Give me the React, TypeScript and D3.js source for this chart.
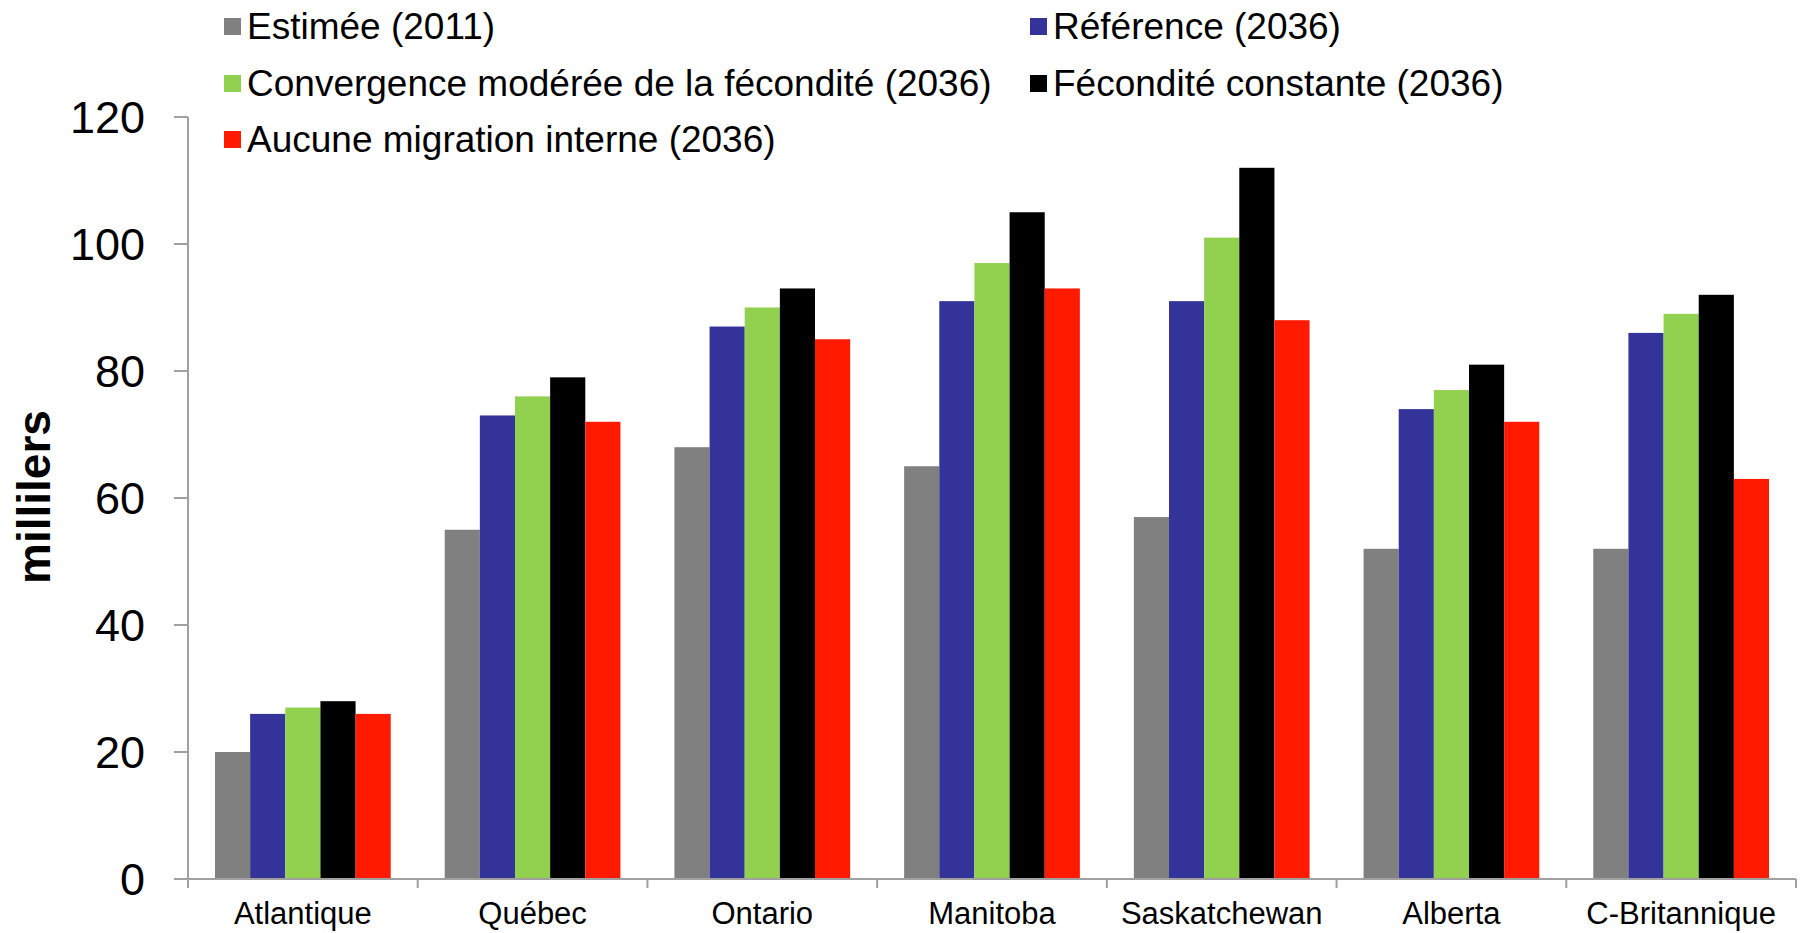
import React from "react";
import * as d3 from "d3";

const categories = ["Atlantique", "Québec", "Ontario", "Manitoba", "Saskatchewan", "Alberta", "C-Britannique"];
const seriesNames = [
  "Estimée (2011)",
  "Référence (2036)",
  "Convergence modérée de la fécondité (2036)",
  "Fécondité constante (2036)",
  "Aucune migration interne (2036)",
];
const seriesColors = ["#808080", "#333399", "#92D050", "#000000", "#FF1A00"];
const estimee2011 = [20, 55, 68, 65, 57, 52, 52];
const reference2036 = [26, 73, 87, 91, 91, 74, 86];
const convergence2036 = [27, 76, 90, 97, 101, 77, 89];
const constante2036 = [28, 79, 93, 105, 112, 81, 92];
const aucuneMigration2036 = [26, 72, 85, 93, 88, 72, 63];
const seriesValues = [estimee2011, reference2036, convergence2036, constante2036, aucuneMigration2036];
const yTicks = [0, 20, 40, 60, 80, 100, 120];

const W = 1802;
const H = 933;
const left = 188;
const right = 1796;
const top = 117;
const bottom = 879;
const font = "'Liberation Sans', Arial, sans-serif";

export default function App() {
  const x0 = d3.scaleBand<string>().domain(categories).range([left, right]).padding(0);
  const bw = x0.bandwidth();
  const gap = bw * 0.1175;
  const x1 = d3.scaleBand<string>().domain(seriesNames).range([gap, bw - gap]).padding(0);
  const y = d3.scaleLinear().domain([0, 120]).range([bottom, top]);
  const axisColor = "#A0A0A0";

  const legendItems = [
    { i: 0, x: 224, y: 26 },
    { i: 1, x: 1030, y: 26 },
    { i: 2, x: 224, y: 83 },
    { i: 3, x: 1030, y: 83 },
    { i: 4, x: 224, y: 139 },
  ];

  return (
    <svg width={W} height={H} style={{ position: "absolute", left: 0, top: 0, background: "#fff" }}>
      {/* bars */}
      {categories.map((c, ci) => (
        <g key={c} transform={`translate(${x0(c)},0)`}>
          {seriesNames.map((s, si) => {
            const v = seriesValues[si][ci];
            return (
              <rect
                key={s}
                x={x1(s)}
                y={y(v)}
                width={x1.bandwidth()}
                height={y(0) - y(v)}
                fill={seriesColors[si]}
              />
            );
          })}
        </g>
      ))}
      {/* y axis */}
      <line x1={left} x2={left} y1={top} y2={bottom + 9} stroke={axisColor} strokeWidth={2} />
      {yTicks.map((t) => (
        <g key={t}>
          <line x1={left - 14} x2={left} y1={y(t)} y2={y(t)} stroke={axisColor} strokeWidth={2} />
          <text
            x={145}
            y={y(t)}
            dy="0.36em"
            textAnchor="end"
            fontFamily={font}
            fontSize={45}
            fill="#000"
          >
            {t}
          </text>
        </g>
      ))}
      {/* x axis */}
      <line x1={left - 14} x2={right} y1={bottom} y2={bottom} stroke={axisColor} strokeWidth={2} />
      {categories.map((c) => (
        <line
          key={"t" + c}
          x1={(x0(c) as number) + bw}
          x2={(x0(c) as number) + bw}
          y1={bottom}
          y2={bottom + 9}
          stroke={axisColor}
          strokeWidth={2}
        />
      ))}
      {categories.map((c) => (
        <text
          key={"l" + c}
          x={(x0(c) as number) + bw / 2}
          y={924}
          textAnchor="middle"
          fontFamily={font}
          fontSize={31}
          fill="#000"
        >
          {c}
        </text>
      ))}
      {/* y title */}
      <text
        transform={`translate(50,497) rotate(-90)`}
        textAnchor="middle"
        fontFamily={font}
        fontSize={46}
        fontWeight="bold"
        fill="#000"
      >
        millilers
      </text>
      {/* legend */}
      {legendItems.map((it) => (
        <g key={it.i}>
          <rect x={it.x} y={it.y - 8} width={17} height={17} fill={seriesColors[it.i]} />
          <text x={it.x + 23} y={it.y} dy="0.36em" fontFamily={font} fontSize={37} fill="#000">
            {seriesNames[it.i]}
          </text>
        </g>
      ))}
    </svg>
  );
}
